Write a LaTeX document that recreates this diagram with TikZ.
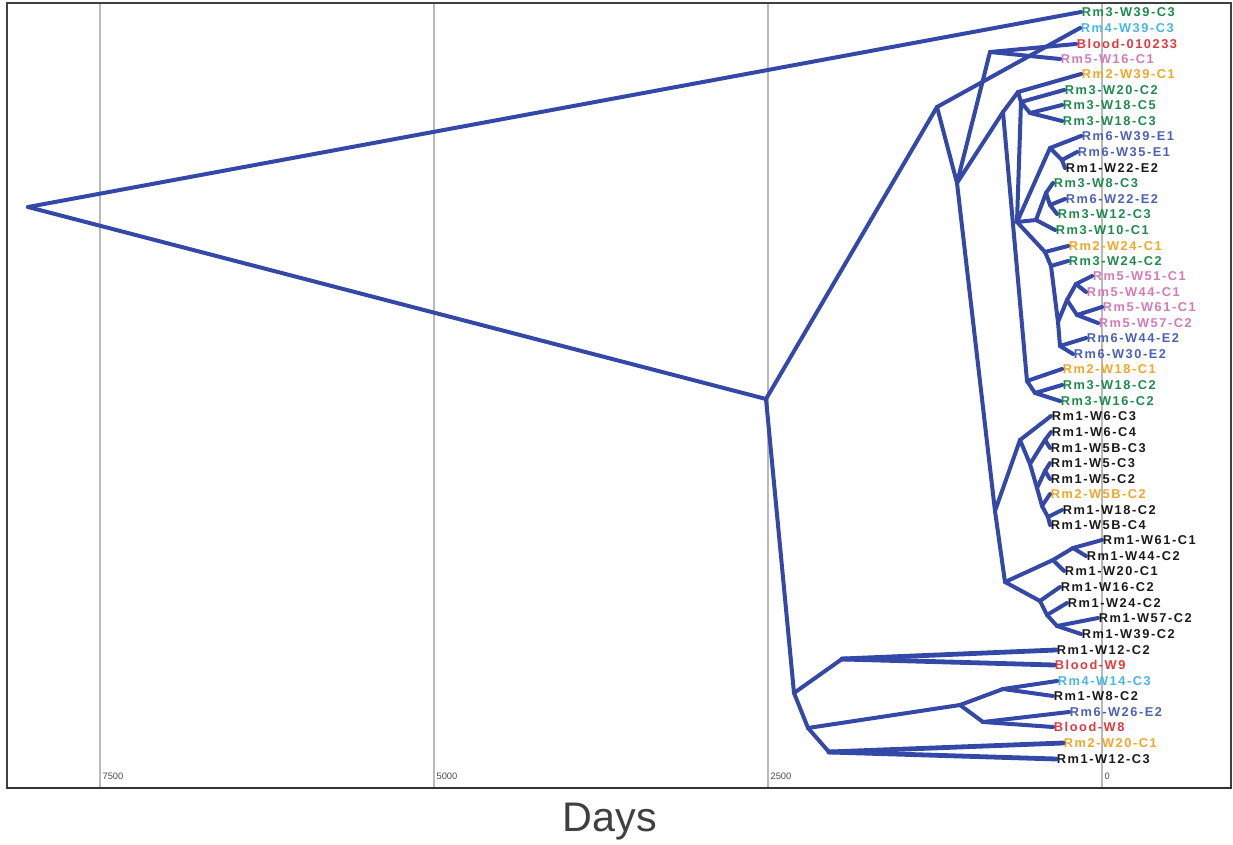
\documentclass[tikz,border=0pt]{standalone}
\usepackage{fontspec}
\setmainfont{Liberation Sans}
\newfontfamily\tipfont[LetterSpace=12]{Liberation Sans}
\usetikzlibrary{positioning}

\definecolor{treeblue}{RGB}{52,72,168}
\definecolor{lgreen}{RGB}{30,138,76}
\definecolor{lblue}{RGB}{74,180,230}
\definecolor{lred}{RGB}{224,58,62}
\definecolor{lpink}{RGB}{212,122,184}
\definecolor{lorange}{RGB}{242,166,40}
\definecolor{lnavy}{RGB}{74,98,180}
\definecolor{lblack}{RGB}{26,26,26}

\begin{document}
\begin{tikzpicture}[x=0.75pt, y=-0.75pt,
  branch/.style={draw=treeblue, line width=3pt, line cap=round, line join=round},
  bundle/.style={branch, line width=3.6pt},
  tip/.style={anchor=west, inner sep=0.5pt, font=\tipfont\bfseries\fontsize{9.6}{10}\selectfont},
  gridline/.style={draw=gray!55, line width=0.8pt},
  ticklabel/.style={anchor=west, inner sep=1pt, text=black!70, font=\fontsize{7}{8}\selectfont}]
  \useasboundingbox (0,0) rectangle (1233,845);

  % grid and frame
  \foreach \gx/\gt in {100/7500, 434/5000, 768/2500, 1102/0} {
    \draw[gridline] (\gx,3) -- (\gx,788);
    \node[ticklabel] (tick\gt) at (\gx+1,776) {\gt};
  }
  \draw[draw=black!75, line width=1.1pt] (7,788) -- (7,3) -- (1231,3) -- (1231,788);
  \draw[draw=black!80, line width=2.2pt] (6,788) -- (1232,788);
  \node[text=black!75, font=\fontsize{31}{33}\selectfont] (days) at (610,822) {Days};

  % internal nodes
  \foreach \n/\x/\y in {R/28/207, A/766/399, B/937/107, K/957/183, J/990/52,
      Q/995/511, N/1020/440, na/1045/440, nb/1045/471, nc/1048/517, nd/1042/506,
      ne/1037/488, nf/1030/464, P/1005/582, p1/1053/560, p2/1073/548, p3/1040/601,
      p4/1047/615, p5/1057/626, C/794/693, D/842/659, E/808/728, F/960/705,
      G/829/752, H/1003/689, I/983/722, a1/1030/113, a2/1021/102, a3/1018/92,
      a4/1003/112, b1/1062/160, b2/1050/148,
      c1/1050/205, c2/1046/193, c3/1036/220, e4/1051/266, e5/1045/252,
      e6/1017/222, r1/1076/284, r2/1077/315, r3/1067/300, r4/1058/322,
      s1/1060/346, d1/1035/393, d2/1027/381}
    \coordinate (\n) at (\x,\y);

  % sample labels
  \foreach \n/\x/\y/\c/\t in {
      t1/1081/12/lgreen/Rm3-W39-C3, t2/1080/28/lblue/Rm4-W39-C3,
      t3/1076/44/lred/Blood-010233, t4/1060/59/lpink/Rm5-W16-C1,
      t5/1081/74/lorange/Rm2-W39-C1, t6/1064/90/lgreen/Rm3-W20-C2,
      t7/1062/105/lgreen/Rm3-W18-C5, t8/1062/121/lgreen/Rm3-W18-C3,
      t9/1081/136/lnavy/Rm6-W39-E1, t10/1077/152/lnavy/Rm6-W35-E1,
      t11/1065/168/lblack/Rm1-W22-E2, t12/1053/183/lgreen/Rm3-W8-C3,
      t13/1065/199/lnavy/Rm6-W22-E2, t14/1057/214/lgreen/Rm3-W12-C3,
      t15/1055/230/lgreen/Rm3-W10-C1, t16/1068/246/lorange/Rm2-W24-C1,
      t17/1068/261/lgreen/Rm3-W24-C2, t18/1092/276/lpink/Rm5-W51-C1,
      t19/1086/292/lpink/Rm5-W44-C1, t20/1102/307/lpink/Rm5-W61-C1,
      t21/1098/323/lpink/Rm5-W57-C2, t22/1086/338/lnavy/Rm6-W44-E2,
      t23/1073/354/lnavy/Rm6-W30-E2, t24/1062/369/lorange/Rm2-W18-C1,
      t25/1062/385/lgreen/Rm3-W18-C2, t26/1060/401/lgreen/Rm3-W16-C2,
      t27/1051/416/lblack/Rm1-W6-C3, t28/1051/432/lblack/Rm1-W6-C4,
      t29/1050/448/lblack/Rm1-W5B-C3, t30/1050/463/lblack/Rm1-W5-C3,
      t31/1050/479/lblack/Rm1-W5-C2, t32/1050/494/lorange/Rm2-W5B-C2,
      t33/1062/510/lblack/Rm1-W18-C2, t34/1050/525/lblack/Rm1-W5B-C4,
      t35/1102/540/lblack/Rm1-W61-C1, t36/1086/556/lblack/Rm1-W44-C2,
      t37/1064/571/lblack/Rm1-W20-C1, t38/1060/587/lblack/Rm1-W16-C2,
      t39/1067/603/lblack/Rm1-W24-C2, t40/1098/618/lblack/Rm1-W57-C2,
      t41/1081/634/lblack/Rm1-W39-C2, t42/1056/650/lblack/Rm1-W12-C2,
      t43/1054/665/lred/Blood-W9, t44/1057/681/lblue/Rm4-W14-C3,
      t45/1053/696/lblack/Rm1-W8-C2, t46/1069/712/lnavy/Rm6-W26-E2,
      t47/1053/727/lred/Blood-W8, t48/1063/743/lorange/Rm2-W20-C1,
      t49/1056/759/lblack/Rm1-W12-C3}
    \node[tip, text=\c] (\n) at (\x,\y) {\t};

  % branches between internal nodes
  \foreach \p/\q in {R/A, A/B, A/C, C/D, C/E, E/F, E/G, F/H, F/I, B/K, K/J,
      K/Q, K/a4, Q/N, Q/P, N/nf, nf/na, nf/ne, ne/nb, ne/nd, nd/nc, P/p1,
      p1/p2, P/p3, p3/p4, p4/p5, a4/a3, a4/d2, a3/a2, a2/a1, a2/e6, e6/b2,
      b2/b1, e6/c3, c3/c2, c2/c1, e6/e5, e5/e4, e4/r4, r4/r3,
      r3/r1, r3/r2, r4/s1, d2/d1}
    \draw[branch] (\p) -- (\q);

  % branches to the samples
  \foreach \p/\q in {R/t1, B/t2, J/t3, J/t4, a3/t5, a2/t6, a1/t7, a1/t8,
      b2/t9, b1/t10, b1/t11, c2/t12, c1/t13, c1/t14, c3/t15, e5/t16, e4/t17,
      r1/t18, r1/t19, r2/t20, r2/t21, s1/t22, s1/t23, d2/t24, d1/t25, d1/t26,
      N/t27, na/t28, na/t29, nb/t30, nb/t31, nd/t32, nc/t33, nc/t34, p2/t35,
      p2/t36, p1/t37, p3/t38, p4/t39, p5/t40, p5/t41, H/t44,
      H/t45, I/t46, I/t47}
    \draw[branch] (\p) -- (\q.west);
  \foreach \p/\q in {D/t42, D/t43, G/t48, G/t49}
    \draw[bundle] (\p) -- (\q.west);
\end{tikzpicture}
\end{document}
